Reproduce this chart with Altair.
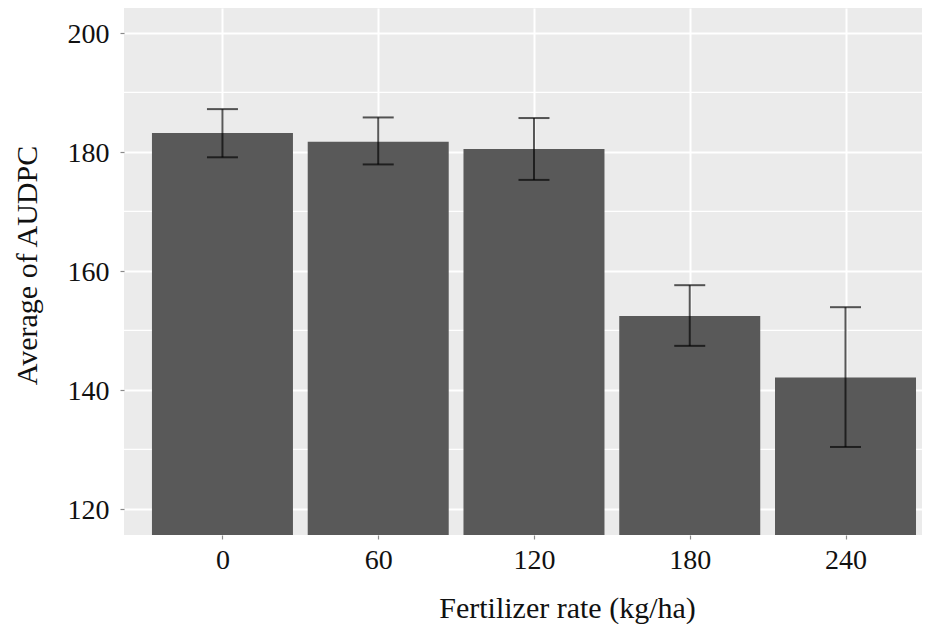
import altair as alt
import pandas as pd

rates = ["0", "60", "120", "180", "240"]
means = [183.2, 181.7, 180.5, 152.4, 142.1]
lower = [179.1, 177.9, 175.3, 147.4, 130.4]
upper = [187.2, 185.8, 185.7, 157.6, 153.9]
major_ticks = [120, 140, 160, 180, 200]
minor_ticks = [130, 150, 170, 190]

df = pd.DataFrame({
    "idx": list(range(len(rates))),
    "rate": rates,
    "mean": means,
    "lo": lower,
    "hi": upper,
})
minor_df = pd.DataFrame({"v": minor_ticks})

FONT = "Liberation Serif, Times New Roman, Times, serif"
ydom = [115.6, 204.2]
xdom = [-0.6, 4.459]

label_expr = "[" + ",".join("'%s'" % r for r in rates) + "][round(datum.value)]"

x_scale = alt.Scale(domain=xdom, nice=False, zero=False)
y_scale = alt.Scale(domain=ydom, zero=False, nice=False)

x_axis = alt.Axis(
    values=list(range(len(rates))),
    labelExpr=label_expr,
    labelAngle=0,
    labelFont=FONT,
    labelFontSize=28,
    labelColor="#111111",
    labelPadding=7,
    tickSize=4,
    tickColor="#8a8a8a",
    tickWidth=1.2,
    domain=False,
    grid=True,
    gridColor="white",
    gridWidth=2,
    titleFont=FONT,
    titleFontSize=30,
    titleFontWeight="normal",
    titleColor="#111111",
    titleBaseline="alphabetic",
    titleAlign="center",
    titleX=443,
    titleY=82,
)

y_axis = alt.Axis(
    values=major_ticks,
    labelFont=FONT,
    labelFontSize=28,
    labelColor="#111111",
    labelPadding=11,
    labelOffset=2,
    tickSize=4,
    tickColor="#8a8a8a",
    tickWidth=1.2,
    domain=False,
    grid=True,
    gridColor="white",
    gridWidth=2,
    titleFont=FONT,
    titleFontSize=30,
    titleFontWeight="normal",
    titleColor="#111111",
    titleBaseline="alphabetic",
    titleAngle=-90,
    titleAlign="center",
    titleX=-88,
    titleY=257,
)

minor = (
    alt.Chart(minor_df)
    .mark_rule(color="white", strokeWidth=1.3)
    .encode(y=alt.Y("v:Q", scale=y_scale))
)

bars = (
    alt.Chart(df)
    .mark_bar(color="#595959", clip=True, size=141)
    .encode(
        x=alt.X("idx:Q", scale=x_scale, axis=x_axis, title="Fertilizer rate (kg/ha)"),
        y=alt.Y("mean:Q", scale=y_scale, axis=y_axis, title="Average of AUDPC"),
    )
)

err = (
    alt.Chart(df)
    .mark_rule(color="black", opacity=0.65, strokeWidth=2)
    .encode(x=alt.X("idx:Q", scale=x_scale), y=alt.Y("lo:Q", scale=y_scale), y2="hi:Q")
)

cap_lo = (
    alt.Chart(df)
    .mark_tick(color="black", opacity=0.65, thickness=2, size=31, orient="horizontal")
    .encode(x=alt.X("idx:Q", scale=x_scale), y=alt.Y("lo:Q", scale=y_scale))
)
cap_hi = (
    alt.Chart(df)
    .mark_tick(color="black", opacity=0.65, thickness=2, size=31, orient="horizontal")
    .encode(x=alt.X("idx:Q", scale=x_scale), y=alt.Y("hi:Q", scale=y_scale))
)

chart = (
    alt.layer(minor, bars, err, cap_lo, cap_hi)
    .properties(
        width=798,
        height=527,
        autosize=alt.AutoSizeParams(type="none"),
        padding={"left": 116, "top": 0, "right": 0, "bottom": 89},
        background="white",
    )
    .configure_view(fill="#EBEBEB", stroke=None)
)

chart.save("out.html", embed_options={"renderer": "svg", "actions": False})
